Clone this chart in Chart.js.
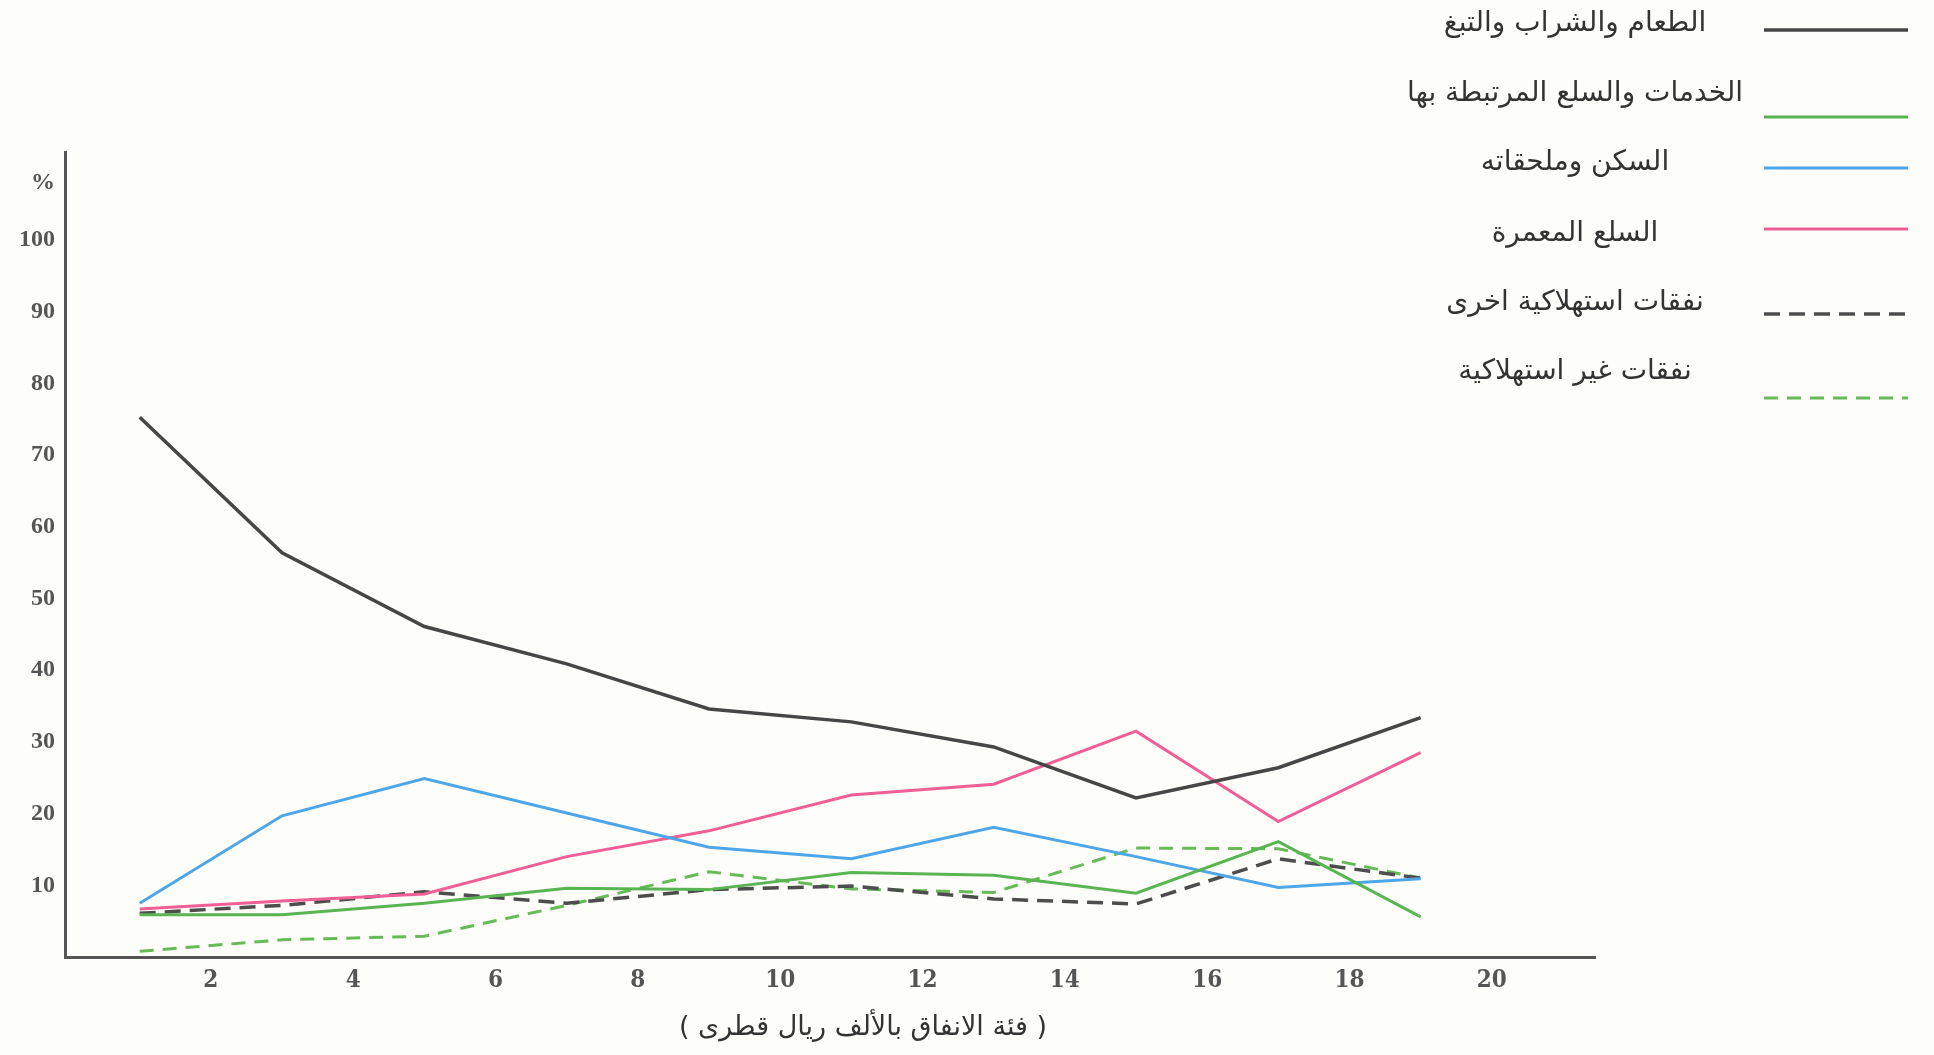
<!DOCTYPE html>
<html>
<head>
<meta charset="utf-8">
<script src="https://cdn.jsdelivr.net/npm/chart.js@4"></script>
<style>
  body { margin: 0; background: #fdfdf9; }
  canvas { display: block; }
</style>
</head>
<body>
<canvas id="chart" dir="rtl" width="1934" height="1055" style="width:1934px;height:1055px"></canvas>
<script>
// spending class (thousand Qatari riyals) and share of spending in %
const xValues = [1, 3, 5, 7, 9, 11, 13, 15, 17, 19];
const xTicks = [2, 4, 6, 8, 10, 12, 14, 16, 18, 20];
const yTicks = [10, 20, 30, 40, 50, 60, 70, 80, 90, 100];

const food      = [75.3, 56.4, 46.1, 40.9, 34.6, 32.8, 29.3, 22.2, 26.4, 33.4];
const services  = [5.9, 5.9, 7.5, 9.6, 9.4, 11.8, 11.4, 8.9, 16.1, 5.6];
const housing   = [7.5, 19.7, 24.9, 20.1, 15.3, 13.7, 18.1, 14.0, 9.7, 10.9];
const durables  = [6.7, 7.8, 8.8, 14.0, 17.6, 22.6, 24.1, 31.5, 18.9, 28.5];
const otherCons = [6.1, 7.2, 9.1, 7.5, 9.4, 9.9, 8.1, 7.4, 13.7, 11.0];
const nonCons   = [0.8, 2.4, 2.9, 7.2, 11.9, 9.5, 9.0, 15.2, 15.1, 11.0];

const labels = [
  'الطعام والشراب والتبغ',
  'الخدمات والسلع المرتبطة بها',
  'السكن وملحقاته',
  'السلع المعمرة',
  'نفقات استهلاكية اخرى',
  'نفقات غير استهلاكية'
];
const xTitle = '( فئة الانفاق بالألف ريال قطرى )';
const percentTick = 108;

const pts = arr => arr.map((v, i) => ({ x: xValues[i], y: v }));

// legend / title placement (pixels)
const legendTextX = 1575;
const legendTextY = [24, 94, 163, 234, 303, 372];
const legendLineY = [30, 117, 168, 229, 314, 398];
const legendLineX = [1764, 1908];
const titlePos = [863, 1028];

const labelPlugin = {
  id: 'sideLegend',
  beforeDraw(chart) {
    const ctx = chart.ctx;
    ctx.save();
    ctx.fillStyle = '#fdfdf9';
    ctx.fillRect(0, 0, chart.width, chart.height);
    ctx.restore();
  },
  afterDraw(chart) {
    const ctx = chart.ctx;
    ctx.save();
    ctx.textAlign = 'center';
    ctx.textBaseline = 'middle';
    ctx.fillStyle = '#333';
    ctx.font = '28px "DejaVu Sans"';
    chart.data.datasets.forEach((ds, i) => {
      ctx.fillText(ds.label, legendTextX, legendTextY[i]);
      ctx.beginPath();
      ctx.strokeStyle = ds.borderColor;
      ctx.lineWidth = ds.borderWidth;
      ctx.setLineDash(ds.borderDash || []);
      ctx.moveTo(legendLineX[0], legendLineY[i]);
      ctx.lineTo(legendLineX[1], legendLineY[i]);
      ctx.stroke();
    });
    // x axis title
    ctx.font = '27px "DejaVu Sans"';
    ctx.fillText(xTitle, titlePos[0], titlePos[1]);
    ctx.restore();
  }
};

new Chart(document.getElementById('chart'), {
  type: 'line',
  data: {
    datasets: [
      { label: labels[0], data: pts(food), borderColor: '#464646', borderWidth: 3.5 },
      { label: labels[1], data: pts(services), borderColor: '#58b552', borderWidth: 3 },
      { label: labels[2], data: pts(housing), borderColor: '#4fa6e6', borderWidth: 3 },
      { label: labels[3], data: pts(durables), borderColor: '#ef5f95', borderWidth: 3 },
      { label: labels[4], data: pts(otherCons), borderColor: '#4d4d4d', borderWidth: 3.5, borderDash: [16, 9] },
      { label: labels[5], data: pts(nonCons), borderColor: '#66bb58', borderWidth: 3, borderDash: [14, 9] }
    ]
  },
  options: {
    responsive: false,
    animation: false,
    elements: { point: { radius: 0 }, line: { tension: 0 } },
    layout: { padding: { left: 0, top: 152, right: 339, bottom: 0 } },
    plugins: { legend: { display: false }, tooltip: { enabled: false } },
    scales: {
      x: {
        type: 'linear',
        min: -0.05,
        max: 21.45,
        grid: { display: false, drawTicks: false },
        border: { display: true, color: '#555', width: 3 },
        afterBuildTicks: s => { s.ticks = xTicks.map(v => ({ value: v })); },
        afterFit: s => { s.height = 98; },
        ticks: {
          padding: 9,
          color: '#555',
          font: { family: '"DejaVu Serif Condensed", "Liberation Serif"', size: 24, weight: 'bold' }
        }
      },
      y: {
        type: 'linear',
        min: 0,
        max: 112.3,
        grid: { display: false, drawTicks: false },
        border: { display: true, color: '#555', width: 3 },
        afterBuildTicks: s => { s.ticks = yTicks.concat([percentTick]).map(v => ({ value: v })); },
        afterFit: s => { s.width = 65; },
        ticks: {
          padding: 10,
          color: '#555',
          font: { family: '"Liberation Serif"', size: 24, weight: 'bold' },
          callback: v => (v === percentTick ? '%' : v)
        }
      }
    }
  },
  plugins: [labelPlugin]
});
</script>
</body>
</html>
